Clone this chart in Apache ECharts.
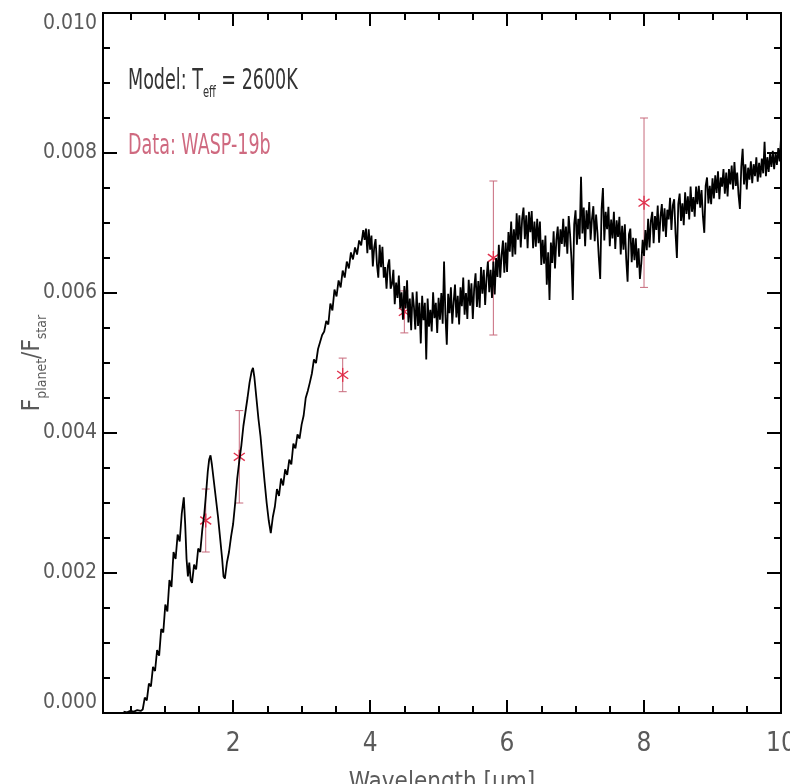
<!DOCTYPE html>
<html>
<head>
<meta charset="utf-8">
<title>WASP-19b</title>
<script src="https://cdn.jsdelivr.net/npm/echarts@6/dist/echarts.min.js"></script>
<style>
  html, body { margin: 0; padding: 0; background: #fff; }
  #chart { width: 790px; height: 784px; }
</style>
</head>
<body>
<div id="chart"></div>
<script>
// model spectrum Teff = 2600K : [wavelength (um), Fplanet/Fstar]
var modelSpectrum = [
  [0.40,0.00002],[0.45,0.00001],[0.50,0.00003],[0.55,0.00002],[0.60,0.00004],[0.65,0.00003],
  [0.68,0.00005],[0.71,0.00022],[0.74,0.00018],[0.77,0.00042],[0.80,0.00038],[0.83,0.00066],[0.86,0.00060],[0.89,0.00090],
  [0.92,0.00082],[0.95,0.00120],[0.98,0.00115],[1.01,0.00155],[1.04,0.00145],[1.07,0.00190],[1.10,0.00180],[1.13,0.00230],
  [1.16,0.00220],[1.19,0.00255],[1.22,0.00245],[1.25,0.00285],[1.28,0.00308],[1.30,0.00270],[1.32,0.00220],[1.34,0.00195],
  [1.36,0.00215],[1.38,0.00190],[1.40,0.00186],[1.43,0.00212],[1.46,0.00205],[1.49,0.00235],[1.52,0.00230],[1.55,0.00262],
  [1.58,0.00285],[1.61,0.00320],[1.63,0.00345],[1.65,0.00362],[1.67,0.00368],[1.69,0.00355],[1.72,0.00330],[1.75,0.00305],
  [1.78,0.00280],[1.81,0.00250],[1.84,0.00220],[1.86,0.00195],[1.88,0.00192],[1.91,0.00215],[1.94,0.00230],[1.97,0.00252],
  [2.00,0.00270],[2.03,0.00300],[2.06,0.00335],[2.09,0.00360],[2.12,0.00382],[2.15,0.00410],[2.18,0.00430],[2.21,0.00450],
  [2.24,0.00472],[2.27,0.00488],[2.29,0.00493],[2.31,0.00480],[2.34,0.00450],[2.37,0.00420],[2.40,0.00395],[2.43,0.00362],
  [2.46,0.00330],[2.49,0.00300],[2.52,0.00275],[2.55,0.00257],[2.58,0.00280],[2.61,0.00295],[2.64,0.00320],[2.67,0.00310],
  [2.70,0.00335],[2.73,0.00325],[2.76,0.00348],[2.79,0.00340],[2.82,0.00362],[2.85,0.00355],[2.88,0.00385],[2.91,0.00378],
  [2.94,0.00398],[2.97,0.00392],[3.00,0.00412],[3.03,0.00425],[3.06,0.00450],[3.09,0.00460],[3.12,0.00472],[3.15,0.00485],
  [3.18,0.00505],[3.21,0.00500],[3.24,0.00520],[3.27,0.00530],[3.30,0.00540],[3.33,0.00545],[3.36,0.00560],[3.39,0.00555],
  [3.42,0.00585],[3.45,0.00575],[3.48,0.00605],[3.51,0.00595],[3.54,0.00618],[3.57,0.00608],[3.60,0.00632],[3.63,0.00622],
  [3.66,0.00645],[3.69,0.00635],[3.72,0.00658],[3.75,0.00648],[3.78,0.00665],[3.81,0.00655],[3.84,0.00675],[3.87,0.00668],
  [3.90,0.00690],[3.92,0.00676],
  [3.94,0.00692],[3.96,0.00657],[3.98,0.00691],[4.00,0.00662],[4.02,0.00682],[4.04,0.00638],[4.06,0.00665],[4.08,0.00677],
  [4.10,0.00641],[4.12,0.00622],[4.14,0.00669],[4.16,0.00637],[4.18,0.00666],[4.20,0.00622],[4.22,0.00637],[4.24,0.00606],
  [4.26,0.00639],[4.28,0.00648],[4.30,0.00606],[4.32,0.00613],[4.34,0.00633],[4.36,0.00584],[4.38,0.00615],[4.40,0.00593],
  [4.42,0.00625],[4.44,0.00578],[4.46,0.00601],[4.48,0.00562],[4.50,0.00610],[4.52,0.00578],[4.54,0.00618],[4.56,0.00558],
  [4.58,0.00592],[4.60,0.00547],[4.62,0.00601],[4.64,0.00581],[4.66,0.00548],[4.68,0.00602],[4.70,0.00553],[4.72,0.00586],
  [4.74,0.00528],[4.76,0.00596],[4.78,0.00561],[4.80,0.00586],[4.82,0.00505],[4.84,0.00592],[4.86,0.00552],[4.88,0.00576],
  [4.90,0.00545],[4.92,0.00601],[4.94,0.00564],[4.96,0.00586],[4.98,0.00543],[5.00,0.00593],
  [5.02,0.00562],[5.04,0.00600],[5.06,0.00556],[5.08,0.00645],[5.10,0.00568],[5.12,0.00526],[5.14,0.00599],[5.16,0.00571],
  [5.18,0.00608],[5.20,0.00556],[5.22,0.00587],[5.24,0.00612],[5.26,0.00565],[5.28,0.00596],[5.30,0.00555],[5.32,0.00608],
  [5.34,0.00581],[5.36,0.00622],[5.38,0.00569],[5.40,0.00600],[5.42,0.00563],[5.44,0.00619],[5.46,0.00582],[5.48,0.00614],
  [5.50,0.00563],[5.52,0.00607],[5.54,0.00628],[5.56,0.00580],[5.58,0.00617],[5.60,0.00579],[5.62,0.00637],[5.64,0.00599],
  [5.66,0.00633],[5.68,0.00583],[5.70,0.00621],[5.72,0.00645],[5.74,0.00601],[5.76,0.00633],[5.78,0.00593],[5.80,0.00645],
  [5.82,0.00598],[5.84,0.00650],[5.86,0.00623],[5.88,0.00669],[5.90,0.00622],[5.92,0.00654],[5.94,0.00675],[5.96,0.00629],
  [5.98,0.00672],[6.00,0.00630],[6.02,0.00687],[6.04,0.00659],[6.06,0.00702],[6.08,0.00652],[6.10,0.00691],[6.12,0.00655],
  [6.14,0.00714],[6.16,0.00676],[6.18,0.00711],[6.20,0.00665],[6.22,0.00706],[6.24,0.00722],[6.26,0.00677],[6.28,0.00711],
  [6.30,0.00664],[6.32,0.00716],[6.34,0.00687],[6.36,0.00717],[6.38,0.00664],[6.40,0.00702],
  [6.42,0.00666],[6.44,0.00706],[6.46,0.00671],[6.48,0.00702],[6.50,0.00640],[6.52,0.00676],[6.54,0.00642],[6.56,0.00682],
  [6.58,0.00612],[6.60,0.00658],[6.62,0.00590],[6.64,0.00672],[6.66,0.00643],[6.68,0.00688],[6.70,0.00635],[6.72,0.00676],
  [6.74,0.00695],[6.76,0.00652],[6.78,0.00691],[6.80,0.00670],
  [6.82,0.00706],[6.84,0.00666],[6.86,0.00695],[6.88,0.00656],[6.90,0.00710],[6.92,0.00684],[6.94,0.00649],[6.96,0.00590],
  [6.98,0.00698],[7.00,0.00718],[7.02,0.00669],[7.04,0.00706],[7.06,0.00677],[7.08,0.00766],[7.10,0.00685],[7.12,0.00722],
  [7.14,0.00667],[7.16,0.00718],[7.18,0.00691],[7.20,0.00730],[7.22,0.00676],[7.24,0.00706],[7.26,0.00724],[7.28,0.00674],
  [7.30,0.00712],[7.32,0.00686],[7.34,0.00650],[7.36,0.00620],[7.38,0.00720],[7.40,0.00750],
  [7.42,0.00675],[7.44,0.00716],[7.46,0.00691],[7.48,0.00723],[7.50,0.00667],[7.52,0.00705],[7.54,0.00678],[7.56,0.00716],
  [7.58,0.00663],[7.60,0.00704],[7.62,0.00680],[7.64,0.00709],[7.66,0.00655],[7.68,0.00696],[7.70,0.00662],[7.72,0.00698],
  [7.74,0.00648],[7.76,0.00616],[7.78,0.00684],[7.80,0.00692],[7.82,0.00644],[7.84,0.00679],[7.86,0.00647],[7.88,0.00678],
  [7.90,0.00636],[7.92,0.00664],[7.94,0.00620],[7.96,0.00642],[7.98,0.00676],[8.00,0.00653],
  [8.02,0.00690],[8.04,0.00661],[8.06,0.00706],[8.08,0.00665],[8.10,0.00703],[8.12,0.00716],[8.14,0.00671],[8.16,0.00710],
  [8.18,0.00690],[8.20,0.00725],[8.22,0.00672],[8.24,0.00709],[8.26,0.00727],[8.28,0.00688],[8.30,0.00721],[8.32,0.00680],
  [8.34,0.00719],[8.36,0.00705],[8.38,0.00736],[8.40,0.00690],[8.42,0.00725],[8.44,0.00734],[8.46,0.00685],[8.48,0.00650],
  [8.50,0.00727],[8.52,0.00742],[8.54,0.00703],[8.56,0.00728],[8.58,0.00697],[8.60,0.00744],[8.62,0.00713],[8.64,0.00738],
  [8.66,0.00705],[8.68,0.00752],[8.70,0.00716],[8.72,0.00737],[8.74,0.00709],[8.76,0.00752],[8.78,0.00727],[8.80,0.00753],
  [8.82,0.00722],[8.84,0.00747],[8.86,0.00709],[8.88,0.00686],[8.90,0.00753],[8.92,0.00765],[8.94,0.00728],[8.96,0.00753],
  [8.98,0.00727],[9.00,0.00764],
  [9.02,0.00735],[9.04,0.00768],[9.06,0.00743],[9.08,0.00774],[9.10,0.00734],[9.12,0.00765],[9.14,0.00752],[9.16,0.00777],
  [9.18,0.00742],[9.20,0.00772],[9.22,0.00738],[9.24,0.00777],[9.26,0.00755],[9.28,0.00782],[9.30,0.00748],[9.32,0.00787],
  [9.34,0.00753],[9.36,0.00772],[9.38,0.00740],[9.40,0.00720],[9.42,0.00780],[9.44,0.00806],[9.46,0.00755],[9.48,0.00784],
  [9.50,0.00748],[9.52,0.00779],[9.54,0.00762],[9.56,0.00788],[9.58,0.00757],[9.60,0.00784],[9.62,0.00767],[9.64,0.00794],
  [9.66,0.00759],[9.68,0.00786],[9.70,0.00765],[9.72,0.00792],[9.74,0.00771],[9.76,0.00816],[9.78,0.00767],[9.80,0.00794],
  [9.82,0.00773],[9.84,0.00799],[9.86,0.00780],[9.88,0.00803],[9.90,0.00777],[9.92,0.00800],[9.94,0.00783],[9.96,0.00807],
  [9.98,0.00788],[10.00,0.00821]
];

// WASP-19b measurements
var obsWave = [1.60, 2.09, 3.60, 4.50, 5.80, 8.00];
var obsFlux = [0.00275, 0.00366, 0.00483, 0.00573, 0.00650, 0.00729];
var obsErr = [0.00045, 0.00066, 0.00024, 0.00030, 0.00110, 0.00121];

var xMajorTicks = [2, 4, 6, 8, 10];
var xMinorTicks = [0.5, 1, 1.5, 2.5, 3, 3.5, 4.5, 5, 5.5, 6.5, 7, 7.5, 8.5, 9, 9.5];

var FONT = '"Liberation Sans Narrow", "DejaVu Sans Condensed", "Liberation Sans", sans-serif';
var AXIS = { color: '#000', width: 2 };
var TEXT = '#5a5a5a';

function xAxisCfg(pos, ticks, len, withLabels) {
    return {
        type: 'value',
        position: pos,
        min: 0.1,
        max: 10,
        axisLine: { show: true, lineStyle: AXIS },
        axisTick: { show: true, inside: true, length: len, customValues: ticks, lineStyle: AXIS },
        axisLabel: {
            show: withLabels,
            customValues: xMajorTicks,
            color: TEXT,
            fontSize: 26,
            fontFamily: FONT,
            margin: 18
        },
        splitLine: { show: false }
    };
}

function yAxisCfg(pos, withLabels) {
    return {
        type: 'value',
        position: pos,
        min: 0,
        max: 0.01,
        interval: 0.002,
        axisLine: { show: true, lineStyle: AXIS },
        axisTick: { show: true, inside: true, length: 14, lineStyle: AXIS },
        minorTick: { show: true, splitNumber: 4, length: 7, lineStyle: AXIS },
        axisLabel: {
            show: withLabels,
            color: TEXT,
            fontSize: 21,
            fontFamily: FONT,
            margin: 6,
            verticalAlignMaxLabel: 'top',
            verticalAlignMinLabel: 'bottom',
            formatter: function (v) { return v.toFixed(3); }
        },
        splitLine: { show: false },
        minorSplitLine: { show: false }
    };
}

var chart = echarts.init(document.getElementById('chart'));

var xBottom = xAxisCfg('bottom', xMajorTicks, 13, true);
xBottom.name = 'Wavelength [μm]';
xBottom.nameLocation = 'middle';
xBottom.nameGap = 58;
xBottom.nameMoveOverlap = false;
xBottom.nameTextStyle = { color: TEXT, fontSize: 24, fontFamily: FONT };

var yLeft = yAxisCfg('left', true);
yLeft.name = '{f|F}{s|planet}{f|/F}{s|star}';
yLeft.nameLocation = 'middle';
yLeft.nameRotate = 90;
yLeft.nameGap = 54;
yLeft.nameMoveOverlap = false;
yLeft.nameTextStyle = {
    color: TEXT,
    fontFamily: FONT,
    rich: {
        f: { fontSize: 24, lineHeight: 32, color: TEXT, fontFamily: FONT },
        s: { fontSize: 14, lineHeight: 32, color: TEXT, fontFamily: FONT, verticalAlign: 'bottom' }
    }
};

chart.setOption({
    animation: false,
    grid: { left: 103, right: 9, top: 13, bottom: 71, outerBoundsMode: 'none', containLabel: false },
    xAxis: [
        xBottom,
        xAxisCfg('bottom', xMinorTicks, 7, false),
        xAxisCfg('top', xMajorTicks, 13, false),
        xAxisCfg('top', xMinorTicks, 7, false)
    ],
    yAxis: [yLeft, yAxisCfg('right', false)],
    graphic: [
        {
            type: 'text', x: 128, y: 82, scaleY: 1.45,
            style: {
                text: '{a|Model: T}{b|eff}{a| = 2600K}',
                verticalAlign: 'middle',
                rich: {
                    a: { fontSize: 19.5, fontFamily: FONT, fill: '#333', lineHeight: 26 },
                    b: { fontSize: 11, fontFamily: FONT, fill: '#333', lineHeight: 26, verticalAlign: 'bottom' }
                }
            }
        },
        {
            type: 'text', x: 128, y: 147, scaleY: 1.45,
            style: {
                text: 'Data: WASP-19b',
                verticalAlign: 'middle',
                fontSize: 19.5, fontFamily: FONT, fill: '#cf6a80'
            }
        }
    ],
    series: [
        {
            name: 'Model',
            type: 'line',
            xAxisIndex: 0,
            yAxisIndex: 0,
            data: modelSpectrum,
            showSymbol: false,
            clip: true,
            lineStyle: { color: '#000', width: 1.8 }
        },
        {
            name: 'WASP-19b',
            type: 'custom',
            xAxisIndex: 0,
            yAxisIndex: 0,
            data: obsWave.map(function (w, i) {
                return [w, obsFlux[i], obsFlux[i] - obsErr[i], obsFlux[i] + obsErr[i]];
            }),
            encode: { x: 0, y: 1 },
            renderItem: function (params, api) {
                var c = api.coord([api.value(0), api.value(1)]);
                var lo = api.coord([api.value(0), api.value(2)]);
                var hi = api.coord([api.value(0), api.value(3)]);
                var bar = { stroke: '#c86a7c', lineWidth: 1 };
                var star = { stroke: '#e0304c', lineWidth: 1.4 };
                var r = 7, d = 5.5;
                return {
                    type: 'group',
                    children: [
                        { type: 'line', shape: { x1: lo[0], y1: lo[1], x2: hi[0], y2: hi[1] }, style: bar },
                        { type: 'line', shape: { x1: lo[0] - 4, y1: lo[1], x2: lo[0] + 4, y2: lo[1] }, style: bar },
                        { type: 'line', shape: { x1: hi[0] - 4, y1: hi[1], x2: hi[0] + 4, y2: hi[1] }, style: bar },
                        { type: 'line', shape: { x1: c[0], y1: c[1] - r, x2: c[0], y2: c[1] + r }, style: star },
                        { type: 'line', shape: { x1: c[0] - d, y1: c[1] - d * 0.7, x2: c[0] + d, y2: c[1] + d * 0.7 }, style: star },
                        { type: 'line', shape: { x1: c[0] - d, y1: c[1] + d * 0.7, x2: c[0] + d, y2: c[1] - d * 0.7 }, style: star }
                    ]
                };
            }
        }
    ]
});
</script>
</body>
</html>
